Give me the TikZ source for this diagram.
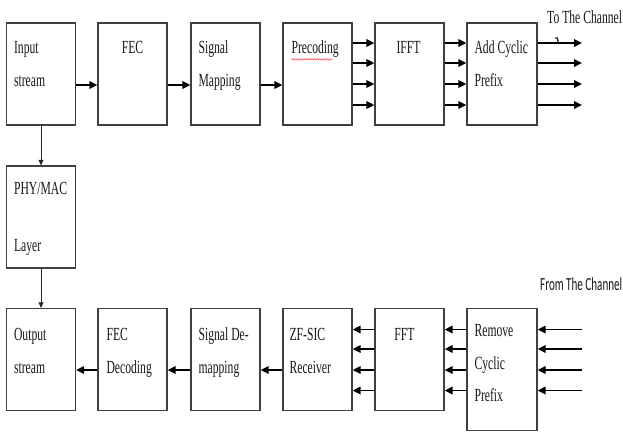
\documentclass[tikz,border=0pt]{standalone}
\usepackage{fontspec}
\setmainfont{Liberation Serif}
\newfontfamily\sansfnt{Carlito}
\usetikzlibrary{arrows.meta,calc,decorations.pathmorphing}
\newcommand\nar[1]{\scalebox{0.63}[1]{#1}}
\newcommand\narr[1]{\scalebox{0.6}[1]{#1}}
\begin{document}
\begin{tikzpicture}[x=1pt,y=-1pt,
  blk/.style={draw=black!75, line width=1.3pt, fill=white, minimum width=69pt, minimum height=102pt, inner sep=0pt},
  lbl/.style={inner sep=0pt, font=\fontsize{18.5}{20}\selectfont, text=black!90},
  arr/.style={line width=1.7pt, -{Triangle[length=8pt,width=7.5pt]}},
  varr/.style={line width=0.9pt, black!85, -{Triangle[length=5.5pt,width=5pt]}}]
\useasboundingbox (0,0) rectangle (623,432);

% top row
\node[blk] (in)   at (41,74) {};
\node[blk] (fec)  at (132.5,74) {};
\node[blk] (map)  at (225.5,74) {};
\node[blk] (pre)  at (317.5,74) {};
\node[blk] (ifft) at (409.5,74) {};
\node[blk, minimum width=70pt] (acp) at (502,74) {};
% middle
\node[blk] (phy) at (41,217) {};
% bottom row
\node[blk] (out)   at (41,359.5) {};
\node[blk] (fecd)  at (132.5,359.5) {};
\node[blk] (demap) at (225.5,359.5) {};
\node[blk] (zf)    at (317.5,359.5) {};
\node[blk] (fft)   at (409.5,359.5) {};
\node[blk, minimum width=70pt, minimum height=122pt] (rcp) at (502,369.5) {};

% labels
\node[lbl, anchor=base west] (inA) at ($(in.north west)+(8,31)$) {\nar{Input}};
\node[lbl, anchor=base west] (inB) at ($(in.north west)+(8,64)$) {\nar{stream}};
\node[lbl, anchor=base] (fecA) at ($(fec.north)+(0,31)$) {\nar{FEC}};
\node[lbl, anchor=base west] (mapA) at ($(map.north west)+(8,31)$) {\nar{Signal}};
\node[lbl, anchor=base west] (mapB) at ($(map.north west)+(8,64)$) {\nar{Mapping}};
\node[lbl, anchor=base west] (preA) at ($(pre.north west)+(9,31)$) {\nar{Precoding}};
\node[lbl, anchor=base] (ifftA) at ($(ifft.north)+(-1,31)$) {\nar{IFFT}};
\node[lbl, anchor=base west] (acpA) at ($(acp.north west)+(8,31)$) {\nar{Add Cyclic}};
\node[lbl, anchor=base west] (acpB) at ($(acp.north west)+(8,64)$) {\nar{Prefix}};
\node[lbl, anchor=base west] (phyA) at ($(phy.north west)+(8,29)$) {\nar{PHY/MAC}};
\node[lbl, anchor=base west] (phyB) at ($(phy.north west)+(8,86)$) {\nar{Layer}};
\node[lbl, anchor=base west] (outA) at ($(out.north west)+(8,33)$) {\nar{Output}};
\node[lbl, anchor=base west] (outB) at ($(out.north west)+(8,66)$) {\nar{stream}};
\node[lbl, anchor=base west] (fecdA) at ($(fecd.north west)+(9,33)$) {\nar{FEC}};
\node[lbl, anchor=base west] (fecdB) at ($(fecd.north west)+(9,66)$) {\nar{Decoding}};
\node[lbl, anchor=base west] (demapA) at ($(demap.north west)+(8,33)$) {\nar{Signal De-}};
\node[lbl, anchor=base west] (demapB) at ($(demap.north west)+(8,66)$) {\nar{mapping}};
\node[lbl, anchor=base west] (zfA) at ($(zf.north west)+(7,33)$) {\nar{ZF-SIC}};
\node[lbl, anchor=base west] (zfB) at ($(zf.north west)+(7,66)$) {\nar{Receiver}};
\node[lbl, anchor=base] (fftA) at ($(fft.north)+(-5,33)$) {\nar{FFT}};
\node[lbl, anchor=base west] (rcpA) at ($(rcp.north west)+(8,29)$) {\nar{Remove}};
\node[lbl, anchor=base west] (rcpB) at ($(rcp.north west)+(8,62)$) {\nar{Cyclic}};
\node[lbl, anchor=base west] (rcpC) at ($(rcp.north west)+(8,94)$) {\nar{Prefix}};

\node[lbl, anchor=base west] (tochan) at (547,23) {\nar{To The Channel}};
\node[lbl, anchor=base west, font=\sansfnt\fontsize{18.5}{20}\selectfont] (fromchan) at (540,290) {\narr{From The Channel}};

% spell-check underline
\draw[red!80, line width=0.5pt, decorate, decoration={snake, segment length=2.5pt, amplitude=0.7pt}]
  ($(pre.north west)+(9,37)$) -- ($(pre.north west)+(50,37)$);

% top connectors
\draw[arr] ($(in.east)+(0,11)$) -- ($(fec.west)+(0,11)$);
\draw[arr] ($(fec.east)+(0,11)$) -- ($(map.west)+(0,11)$);
\draw[arr] ($(map.east)+(0,11)$) -- ($(pre.west)+(0,11)$);
\coordinate (chout) at (582,0);
\foreach \d [count=\i] in {-31,-11,10,31} {
  \coordinate (t\i) at ($(ifft.center)+(0,\d)$);
  \draw[arr] (pre.east |- t\i) -- (ifft.west |- t\i);
  \draw[arr] (ifft.east |- t\i) -- (acp.west |- t\i);
  \draw[arr] (acp.east |- t\i) -- (chout |- t\i);
}
\draw[black!85, line width=1.4pt, line cap=round] (555.5,38) .. controls (557.5,37.5) .. (558,42);

% vertical connectors
\draw[varr] (in.south) -- (phy.north);
\draw[varr] (phy.south) -- (out.north);

% bottom connectors
\coordinate (chin) at (582,0);
\foreach \d [count=\i] in {-30,-10.5,10.5,31} {
  \coordinate (b\i) at ($(fft.center)+(0,\d)$);
  \draw[arr] (fft.west |- b\i) -- (zf.east |- b\i);
  \draw[arr] (rcp.west |- b\i) -- (fft.east |- b\i);
  \draw[arr] (chin |- b\i) -- (rcp.east |- b\i);
}
\draw[arr] ($(zf.west)+(0,10.5)$) -- ($(demap.east)+(0,10.5)$);
\draw[arr] ($(demap.west)+(0,10.5)$) -- ($(fecd.east)+(0,10.5)$);
\draw[arr] ($(fecd.west)+(0,10.5)$) -- ($(out.east)+(0,10.5)$);
\end{tikzpicture}
\end{document}
